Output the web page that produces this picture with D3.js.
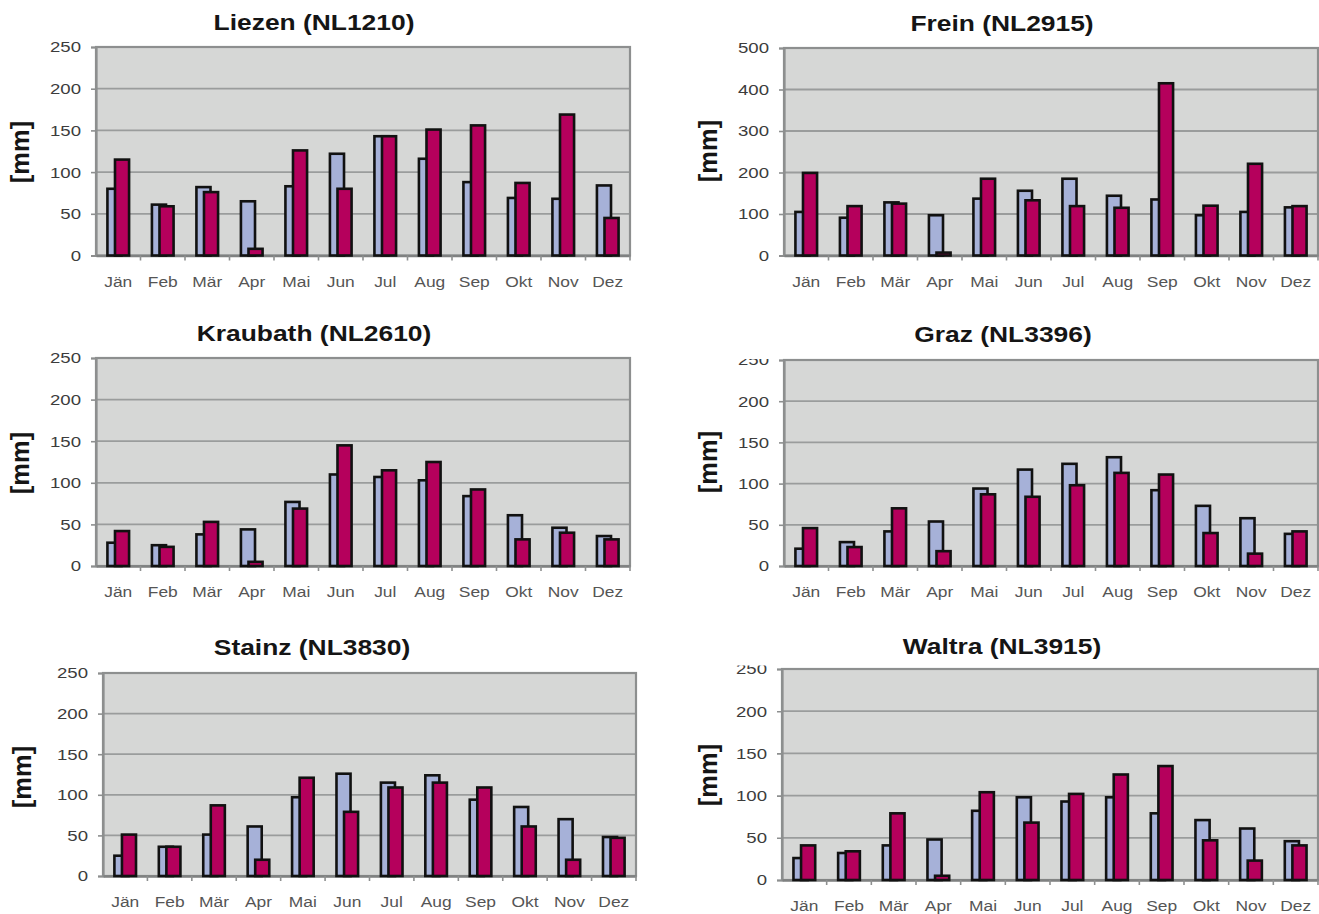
<!DOCTYPE html>
<html>
<head>
<meta charset="utf-8">
<script src="https://cdn.jsdelivr.net/npm/d3@7"></script>
<style>
  html, body { margin: 0; padding: 0; background: #ffffff; }
  svg { display: block; }
</style>
</head>
<body>
<svg id="chart" width="1319" height="914"></svg>
<script>
// ---------------- DATA ----------------
const months = ["Jän","Feb","Mär","Apr","Mai","Jun","Jul","Aug","Sep","Okt","Nov","Dez"];
const stationNames = ["Liezen (NL1210)","Frein (NL2915)","Kraubath (NL2610)","Graz (NL3396)","Stainz (NL3830)","Waltra (NL3915)"];
const yUnit = "[mm]";

const liezenBlue   = [80, 61, 82, 65, 83, 122, 143, 116, 88, 69, 68, 84];
const liezenRed    = [115, 59, 76, 8, 126, 80, 143, 151, 156, 87, 169, 45];
const freinBlue    = [105, 91, 128, 97, 137, 156, 185, 144, 135, 97, 105, 116];
const freinRed     = [199, 119, 125, 7, 185, 133, 119, 115, 415, 120, 221, 119];
const kraubathBlue = [28, 25, 38, 44, 77, 110, 107, 103, 84, 61, 46, 36];
const kraubathRed  = [42, 23, 53, 5, 69, 145, 115, 125, 92, 32, 40, 32];
const grazBlue     = [21, 29, 42, 54, 94, 117, 124, 132, 92, 73, 58, 39];
const grazRed      = [46, 23, 70, 18, 87, 84, 98, 113, 111, 40, 15, 42];
const stainzBlue   = [25, 36, 51, 61, 97, 126, 115, 124, 94, 85, 70, 48];
const stainzRed    = [51, 36, 87, 20, 121, 79, 109, 115, 109, 61, 20, 47];
const waltraBlue   = [26, 32, 41, 48, 82, 98, 93, 98, 79, 71, 61, 46];
const waltraRed    = [41, 34, 79, 5, 104, 68, 102, 125, 135, 47, 23, 41];

const yMax   = [250, 500, 250, 250, 250, 250];
const yStep  = [50, 100, 50, 50, 50, 50];

// ---------------- LAYOUT ----------------
const layout = [
  {x0: 96,  x1: 630,  top: 47,  bottom: 255.5, tx: 314,  ty: 30,  ux: 29,  uy: 152, clip: null},
  {x0: 784, x1: 1318, top: 48,  bottom: 255.5, tx: 1002, ty: 31,  ux: 717, uy: 151, clip: null},
  {x0: 96,  x1: 630,  top: 358, bottom: 566,   tx: 314,  ty: 341, ux: 29,  uy: 463, clip: null},
  {x0: 784, x1: 1318, top: 360, bottom: 566,   tx: 1003, ty: 342, ux: 717, uy: 462, clip: 1},
  {x0: 103, x1: 636,  top: 673, bottom: 876,   tx: 312,  ty: 655, ux: 31,  uy: 777, clip: null},
  {x0: 782, x1: 1318, top: 669, bottom: 880,   tx: 1002, ty: 654, ux: 717, uy: 775, clip: 3.5}
];

const seriesBlue = [liezenBlue, freinBlue, kraubathBlue, grazBlue, stainzBlue, waltraBlue];
const seriesRed  = [liezenRed, freinRed, kraubathRed, grazRed, stainzRed, waltraRed];

const colBlue = "#a6b1d8";
const colRed  = "#b5005c";
const plotBg  = "#d6d7d6";
const gridCol = "#9a9c9c";
const borderCol = "#8d8f8f";
const FONT = "Liberation Sans, Arial, sans-serif";
const SX = 1.2; // horizontal stretch of the text in the original picture

const svg = d3.select("#chart");
const defs = svg.append("defs");

stationNames.forEach((name, i) => {
  const L = layout[i];
  const g = svg.append("g");
  const x = d3.scaleBand().domain(months).range([L.x0, L.x1]).paddingInner(0).paddingOuter(0);
  const y = d3.scaleLinear().domain([0, yMax[i]]).range([L.bottom, L.top]);
  const bw = x.bandwidth();
  const barW = bw * 0.375;
  const off = bw * 0.17;
  const sw = 2.6;

  // plot background
  g.append("rect")
    .attr("x", L.x0).attr("y", L.top)
    .attr("width", L.x1 - L.x0).attr("height", L.bottom - L.top)
    .attr("fill", plotBg);

  // gridlines
  const ticks = d3.range(0, yMax[i] + 1, yStep[i]);
  g.selectAll(".grid").data(ticks.filter(t => t > 0 && t < yMax[i])).enter()
    .append("line")
    .attr("x1", L.x0).attr("x2", L.x1)
    .attr("y1", d => y(d)).attr("y2", d => y(d))
    .attr("stroke", gridCol).attr("stroke-width", 1.8);

  // border
  g.append("rect")
    .attr("x", L.x0).attr("y", L.top)
    .attr("width", L.x1 - L.x0).attr("height", L.bottom - L.top)
    .attr("fill", "none").attr("stroke", borderCol).attr("stroke-width", 2.2);

  // y axis
  const tickSize = 5, pad = 10;
  const yAxis = d3.axisLeft(y).tickValues(ticks).tickSize(tickSize).tickPadding(pad).tickFormat(d3.format("d"));
  const ya = g.append("g").attr("transform", `translate(${L.x0},0)`).call(yAxis);
  ya.select(".domain").attr("stroke", borderCol).attr("stroke-width", 2.2);
  ya.selectAll(".tick line").attr("stroke", borderCol).attr("stroke-width", 1.6);
  ya.selectAll(".tick text")
    .attr("font-family", FONT)
    .attr("font-size", 15.5).attr("fill", "#3c3c3c")
    .attr("x", -(tickSize + pad) / SX)
    .attr("transform", `scale(${SX},1)`);
  if (L.clip !== null) {
    const id = "clip" + i;
    defs.append("clipPath").attr("id", id)
      .append("rect")
      .attr("x", -80).attr("y", L.top - L.clip)
      .attr("width", 90).attr("height", L.bottom - L.top + 30);
    ya.attr("clip-path", `url(#${id})`);
  }

  // x axis
  const xAxis = d3.axisBottom(x).tickSize(0).tickPadding(21);
  const xa = g.append("g").attr("transform", `translate(0,${L.bottom})`).call(xAxis);
  xa.select(".domain").attr("stroke", "#7f8181").attr("stroke-width", 2.6);
  xa.selectAll(".tick text")
    .attr("font-family", FONT)
    .attr("font-size", 14.5).attr("fill", "#555555")
    .attr("transform", `scale(${SX},1)`);
  // scale affects x of tick group? no: transform on text only, x=0 centered
  // x tick marks at band boundaries
  g.selectAll(".xtm").data(months.slice(1).concat(["__end"])).enter()
    .append("line")
    .attr("x1", d => d === "__end" ? L.x1 : x(d))
    .attr("x2", d => d === "__end" ? L.x1 : x(d))
    .attr("y1", L.bottom).attr("y2", L.bottom + 5)
    .attr("stroke", borderCol).attr("stroke-width", 1.6);

  // bars: blue (behind), red (front)
  const groupW = barW + off;
  const data = months.map((m, k) => ({m, b: seriesBlue[i][k], r: seriesRed[i][k]}));
  g.selectAll(".bb").data(data).enter().append("rect")
    .attr("x", d => x(d.m) + bw / 2 - groupW / 2 + sw / 2)
    .attr("y", d => y(d.b))
    .attr("width", barW - sw)
    .attr("height", d => L.bottom - y(d.b))
    .attr("fill", colBlue).attr("stroke", "#111").attr("stroke-width", sw);
  g.selectAll(".rb").data(data).enter().append("rect")
    .attr("x", d => x(d.m) + bw / 2 - groupW / 2 + off + sw / 2)
    .attr("y", d => y(d.r))
    .attr("width", barW - sw)
    .attr("height", d => L.bottom - y(d.r))
    .attr("fill", colRed).attr("stroke", "#111").attr("stroke-width", sw);

  // title
  g.append("text")
    .attr("transform", `translate(${L.tx},${L.ty}) scale(${SX},1)`)
    .attr("text-anchor", "middle")
    .attr("font-family", FONT)
    .attr("font-weight", "bold").attr("font-size", 22).attr("fill", "#151515")
    .text(name);

  // unit label
  g.append("text")
    .attr("transform", `translate(${L.ux},${L.uy}) rotate(-90)`)
    .attr("text-anchor", "middle")
    .attr("font-family", FONT)
    .attr("font-weight", "bold").attr("font-size", 25.5).attr("fill", "#151515")
    .text(yUnit);
});
</script>
</body>
</html>
